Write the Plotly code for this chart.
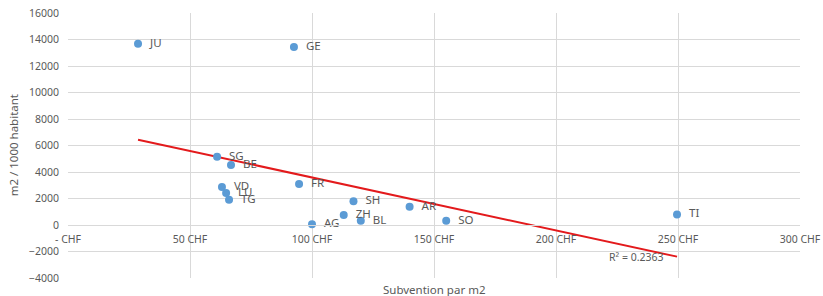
import numpy as np
import plotly.graph_objects as go

cantons = ["JU", "GE", "SG", "BE", "VD", "LU", "TG", "FR", "AG", "SH", "ZH", "BL", "AR", "SO", "TI"]
subvention = [28.7, 92.6, 61.1, 66.8, 63.1, 64.8, 66.0, 94.7, 100.0, 117.0, 113.0, 120.0, 140.0, 155.0, 249.6]
m2_per_1000 = [13680, 13430, 5150, 4530, 2870, 2420, 1900, 3100, 50, 1800, 750, 330, 1380, 330, 800]

x_tickvals = [0, 50, 100, 150, 200, 250, 300]
x_ticktext = ["- CHF", "50 CHF", "100 CHF", "150 CHF", "200 CHF", "250 CHF", "300 CHF"]
y_tickvals = [-4000, -2000, 0, 2000, 4000, 6000, 8000, 10000, 12000, 14000, 16000]
r2_text = "R² = 0.2363"

xs = np.array(subvention)
ys = np.array(m2_per_1000)
slope, intercept = np.polyfit(xs, ys, 1)
xline = np.array([xs.min(), xs.max()])
yline = slope * xline + intercept

FONT = "Noto Sans"
GREY = "#595959"
GRID = "#D9D9D9"

fig = go.Figure()
fig.add_trace(go.Scatter(
    x=xline, y=yline, mode="lines",
    line=dict(color="#E31A1C", width=2), hoverinfo="skip", showlegend=False))
fig.add_trace(go.Scatter(
    x=subvention, y=m2_per_1000, mode="markers+text",
    text=cantons, texttemplate="  %{text}", textposition="middle right",
    textfont=dict(family=FONT, size=11.5, color=GREY),
    marker=dict(color="#5B9BD5", size=8), showlegend=False))

fig.add_annotation(x=233, y=-2430, text=r2_text, showarrow=False,
                   font=dict(family=FONT, size=10.5, color=GREY))
fig.add_annotation(x=0.5, y=-0.045, xref="paper", yref="paper",
                   xanchor="center", yanchor="middle",
                   text="Subvention par m2", showarrow=False,
                   font=dict(family=FONT, size=11.5, color=GREY))
fig.add_annotation(x=-0.074, y=0.5, xref="paper", yref="paper", textangle=-90,
                   xanchor="center", yanchor="middle",
                   text="m2 / 1000 habitant", showarrow=False,
                   font=dict(family=FONT, size=11.5, color=GREY))

fig.update_layout(
    width=823, height=296,
    margin=dict(l=68, r=23, t=13, b=18),
    paper_bgcolor="white", plot_bgcolor="white",
    font=dict(family=FONT, size=10.5, color=GREY),
    xaxis=dict(range=[0, 300], tickvals=x_tickvals, ticktext=x_ticktext,
               showgrid=True, gridcolor=GRID, gridwidth=1, zeroline=False,
               showline=True, linecolor=GRID, linewidth=1,
               anchor="free", position=0.2, ticks="", automargin=False,
               ticklabelstandoff=4,
               tickfont=dict(family=FONT, size=10.5, color=GREY)),
    yaxis=dict(range=[-4000, 16000], tickvals=y_tickvals, domain=[0, 1],
               tickformat="d", automargin=False,
               showgrid=True, gridcolor=GRID, gridwidth=1, zeroline=False,
               showline=False, ticks="", ticklabelstandoff=8,
               tickfont=dict(family=FONT, size=10.5, color=GREY)),
)

fig.write_html("out.html", config={"displayModeBar": False},
               post_script="document.body.style.margin='0';document.body.style.overflow='hidden';")
